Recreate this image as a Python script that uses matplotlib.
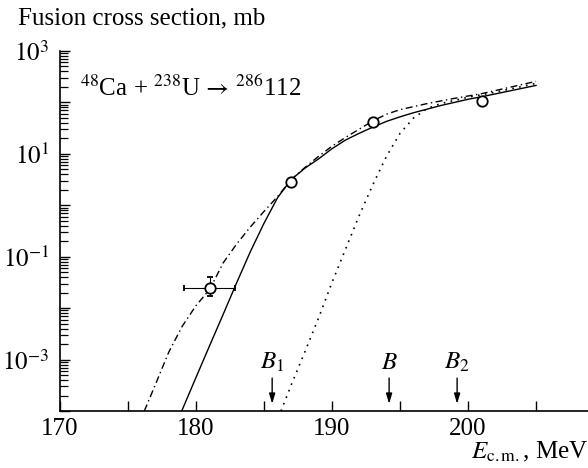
"""Fusion cross section for 48Ca + 238U -> 286112."""
import matplotlib
matplotlib.use("Agg")
import matplotlib.pyplot as plt
from matplotlib.ticker import FixedLocator, LogLocator, NullFormatter

plt.rcParams["font.family"] = ["Liberation Serif", "DejaVu Serif"]
plt.rcParams["mathtext.fontset"] = "stix"

# experimental points (E_cm in MeV, sigma in mb)
exp_e = [181, 187, 193, 201]
exp_sigma = [0.025, 2.86, 42, 107]
exp_xerr_lo = [1.9, 0, 0, 0]
exp_xerr_hi = [1.9, 0, 0, 0]
exp_yerr_lo = [0.008, 0, 0, 0]
exp_yerr_hi = [0.016, 0, 0, 0]

# solid curve
solid_e = [178.95, 180, 181, 182, 183, 184, 185, 186, 187, 188, 189, 190,
           191, 192, 193, 194, 195, 196, 197, 198, 199, 200, 201, 203, 205]
solid_sigma = [1.0e-4, 4.5e-4, 1.86e-3, 7.6e-3, 0.0316, 0.126, 0.447, 1.41,
               3.16, 5.25, 7.94, 12.6, 18.6, 25.1, 33.1, 42.7, 52.5, 63.1,
               74.1, 87.1, 100, 115, 129, 166, 214]

# dash-dot curve
dashdot_e = [176.2, 177, 178, 179, 180, 181, 182, 183, 184, 185, 186, 187,
             188, 189, 190, 191, 192, 193, 194, 195, 197, 199, 201, 203, 205]
dashdot_sigma = [1.0e-4, 3.2e-4, 1.4e-3, 4.5e-3, 0.0112, 0.023, 0.076, 0.178,
                 0.38, 0.76, 1.48, 3.16, 5.4, 8.9, 14.1, 20.9, 30.2, 43.7,
                 58.9, 72.4, 95, 120, 148, 195, 257]

# dotted curve
dotted_e = [186.25, 187, 188, 189, 190, 191, 192, 193, 194, 195, 196, 197,
            198, 200, 202, 205]
dotted_sigma = [1.0e-4, 3.2e-4, 1.4e-3, 6.3e-3, 0.0316, 0.141, 0.63, 2.5,
                8.9, 25, 50, 76, 95, 126, 158, 234]

# barrier arrows
barrier_e = [185.6, 194.2, 199.2]
barrier_labels = ["$B_1$", "$B$", "$B_2$"]

x_ticks = [170, 175, 180, 185, 190, 195, 200, 205]
x_tick_labels = ["170", "", "180", "", "190", "", "200", ""]
y_ticks = [1e-4, 1e-3, 1e-2, 1e-1, 1e0, 1e1, 1e2, 1e3]
y_tick_labels = ["", "$10^{-3}$", "", "$10^{-1}$", "", "$10^{1}$", "", "$10^{3}$"]

fs = 18

fig = plt.figure(figsize=(5.88, 4.68), dpi=100)
ax = fig.add_axes([60 / 588, 57 / 468, 528 / 588, 360 / 468])

ax.plot(solid_e, solid_sigma, "k-", linewidth=1.0)
ax.plot(dashdot_e, dashdot_sigma, color="k", linewidth=1.0,
        dashes=(5, 2.5, 1, 2.5))
ax.plot(dotted_e, dotted_sigma, color="k", linewidth=1.2,
        linestyle=(0, (1, 3.2)))
ax.errorbar(exp_e, exp_sigma,
            xerr=[exp_xerr_lo, exp_xerr_hi],
            yerr=[exp_yerr_lo, exp_yerr_hi],
            fmt="o", mfc="white", mec="k", mew=1.3, ms=7.5,
            ecolor="k", elinewidth=0.8, capsize=2.5, capthick=0.8, zorder=5)

for e, lab in zip(barrier_e, barrier_labels):
    ax.annotate("", xy=(e, 10 ** -3.86), xytext=(e, 10 ** -3.36),
                arrowprops={"arrowstyle": "-|>,head_length=0.6,head_width=0.18",
                            "color": "k", "lw": 1.0, "shrinkA": 0, "shrinkB": 0})
    ax.text(e, 10 ** -3.06, lab, ha="center", va="center", fontsize=fs)

ax.set_yscale("log")
ax.set_xlim(170, 170 + 528 / 13.6)
ax.set_ylim(1e-4, 1e3)

ax.xaxis.set_major_locator(FixedLocator(x_ticks))
ax.set_xticklabels(x_tick_labels)
ax.yaxis.set_major_locator(FixedLocator(y_ticks))
ax.set_yticklabels(y_tick_labels)
ax.yaxis.set_minor_locator(LogLocator(base=10, subs=range(2, 10), numticks=20))
ax.yaxis.set_minor_formatter(NullFormatter())

ax.tick_params(axis="both", which="major", direction="in", length=7,
               width=1.0, labelsize=fs, pad=8)
ax.tick_params(axis="y", which="minor", direction="in", length=6, width=0.9)
ax.tick_params(axis="x", which="minor", bottom=False)
ax.tick_params(axis="x", pad=5)

for side in ("top", "right"):
    ax.spines[side].set_visible(False)
for side in ("left", "bottom"):
    ax.spines[side].set_linewidth(1.2)

ax.text(20 / 528, (411 - 88) / 360,
        r"$^{48}$Ca + $^{238}$U$\,\rightarrow\,^{286}$112",
        transform=ax.transAxes, ha="left", va="center", fontsize=fs)

fig.text(18 / 588, 1 - 18 / 468, "Fusion cross section, mb",
         ha="left", va="center", fontsize=fs)
fig.text(588 / 588, 1 - 458 / 468, r"$E_{\rm c.m.}$, MeV",
         ha="right", va="baseline", fontsize=fs)

fig.savefig("out.png", dpi=100)
